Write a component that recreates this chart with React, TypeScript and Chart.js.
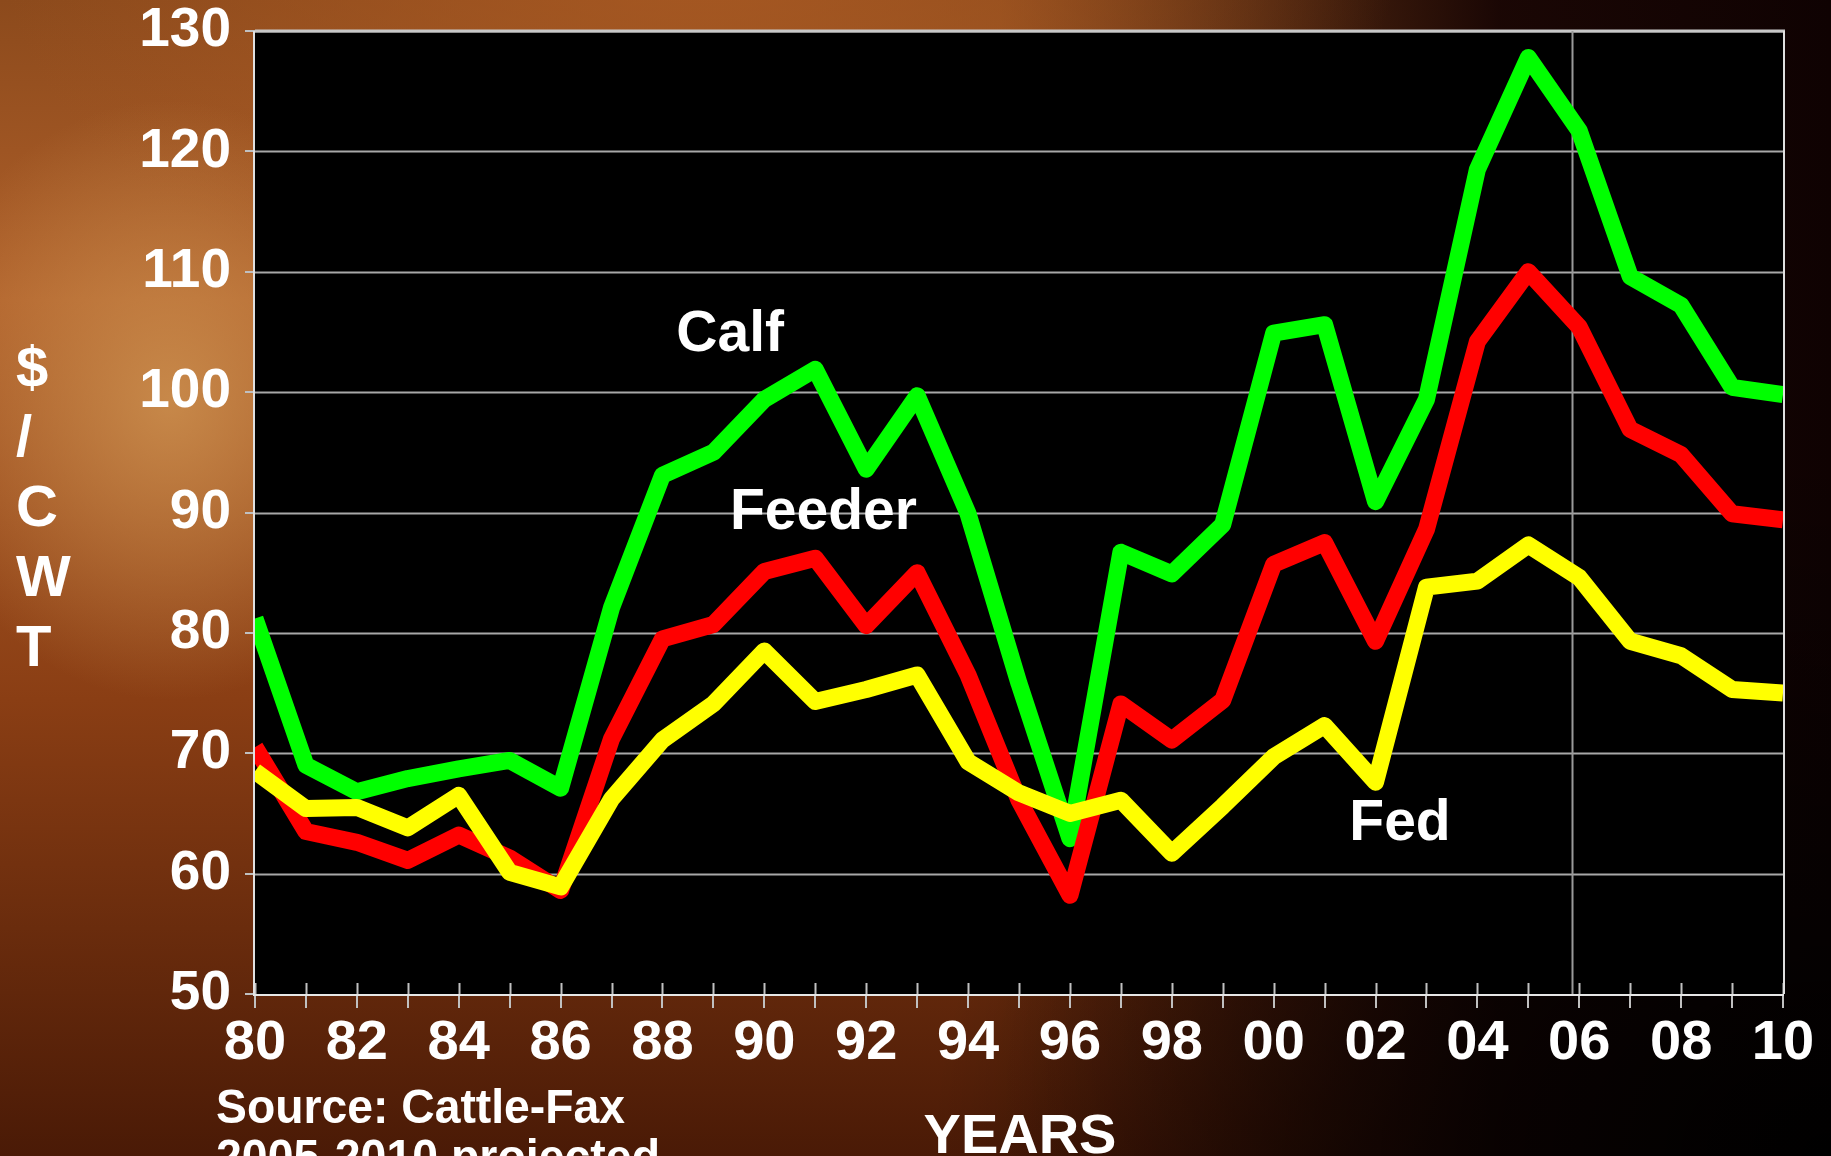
import React, { useEffect, useRef } from "react";
import { Chart, registerables } from "chart.js";

Chart.register(...registerables);

const years = [
  1980, 1981, 1982, 1983, 1984, 1985, 1986, 1987, 1988, 1989, 1990, 1991, 1992, 1993, 1994, 1995,
  1996, 1997, 1998, 1999, 2000, 2001, 2002, 2003, 2004, 2005, 2006, 2007, 2008, 2009, 2010,
];
const calf = [
  81.2, 69.0, 66.8, 67.9, 68.7, 69.4, 67.1, 82.1, 93.1, 95.0, 99.4, 101.9, 93.6, 99.7, 89.9, 75.8,
  62.9, 86.7, 84.9, 89.0, 104.9, 105.6, 90.9, 99.4, 118.5, 127.8, 121.7, 109.6, 107.2, 100.4, 99.8,
];
const feeder = [
  70.5, 63.5, 62.6, 61.1, 63.2, 61.3, 58.6, 71.2, 79.5, 80.7, 85.1, 86.2, 80.6, 85.0, 76.5, 66.1,
  58.2, 74.1, 71.1, 74.4, 85.7, 87.5, 79.3, 88.6, 104.2, 110.0, 105.4, 96.9, 94.8, 89.9, 89.4,
];
const fed = [
  68.5, 65.4, 65.5, 63.8, 66.5, 60.1, 58.9, 66.2, 71.1, 74.1, 78.5, 74.3, 75.3, 76.5, 69.3, 66.7,
  65.0, 66.1, 61.7, 65.6, 69.7, 72.3, 67.6, 83.8, 84.3, 87.3, 84.6, 79.3, 78.1, 75.3, 75.0,
];
const seriesNames = ["Fed", "Feeder", "Calf"];
const seriesColors = ["#ffff00", "#ff0000", "#00ff00"];
// label anchor positions in data units [year, value]
const labelPos: [string, number, number][] = [
  ["Calf", 1989.33, 104.7],
  ["Feeder", 1991.16, 89.9],
  ["Fed", 2002.48, 64.1],
];
const yAxisLetters = ["$", "/", "C", "W", "T"];
const sourceLines = ["Source: Cattle-Fax", "2005-2010 projected"];
const xTitle = "YEARS";
const dividerYear = 2005.85;

const FONT = "'Liberation Sans', Arial, sans-serif";

export default function App() {
  const ref = useRef<HTMLCanvasElement | null>(null);
  useEffect(() => {
    document.body.style.margin = "0";
    const canvas = ref.current!;
    const toPts = (vals: number[]) => years.map((y, i) => ({ x: y, y: vals[i] }));
    const allSeries = [fed, feeder, calf];

    const decor = {
      id: "decor",
      beforeDatasetsDraw(chart: any) {
        const { ctx, chartArea: a } = chart;
        ctx.save();
        ctx.fillStyle = "#000";
        ctx.fillRect(a.left, a.top, a.right - a.left, a.bottom - a.top);
        const ys = chart.scales.y;
        ctx.strokeStyle = "#a8a8a8";
        ctx.lineWidth = 2;
        for (let v = 60; v <= 130; v += 10) {
          const py = Math.round(ys.getPixelForValue(v)) + 0.5;
          ctx.beginPath();
          ctx.moveTo(a.left, py);
          ctx.lineTo(a.right, py);
          ctx.stroke();
        }
        ctx.strokeStyle = "#c8c8c8";
        ctx.lineWidth = 3;
        ctx.beginPath();
        ctx.moveTo(a.left, a.top);
        ctx.lineTo(a.right + 2, a.top);
        ctx.stroke();
        const dx = Math.round(chart.scales.x.getPixelForValue(dividerYear)) + 0.5;
        ctx.strokeStyle = "#9a9a9a";
        ctx.lineWidth = 2;
        ctx.beginPath();
        ctx.moveTo(dx, a.top);
        ctx.lineTo(dx, a.bottom);
        ctx.stroke();
        ctx.strokeStyle = "#c0c0c0";
        for (const yr of years) {
          const px = Math.round(chart.scales.x.getPixelForValue(yr)) + 0.5;
          ctx.beginPath();
          ctx.moveTo(px, a.bottom - 11);
          ctx.lineTo(px, a.bottom);
          ctx.stroke();
        }
        ctx.restore();
      },
      afterDatasetsDraw(chart: any) {
        const { ctx, chartArea: a } = chart;
        ctx.save();
        ctx.strokeStyle = "#e0e0e0";
        ctx.lineWidth = 2;
        ctx.beginPath();
        ctx.moveTo(a.right + 1, a.top);
        ctx.lineTo(a.right + 1, a.bottom);
        ctx.stroke();
        ctx.beginPath();
        ctx.moveTo(a.left - 1, a.top);
        ctx.lineTo(a.left - 1, a.bottom);
        ctx.stroke();

        ctx.fillStyle = "#fff";
        ctx.textAlign = "center";
        ctx.textBaseline = "middle";
        ctx.font = `bold 57px ${FONT}`;
        for (const [t, xv, yv] of labelPos) {
          ctx.fillText(t, chart.scales.x.getPixelForValue(xv), chart.scales.y.getPixelForValue(yv));
        }
        ctx.textAlign = "left";
        ctx.font = `bold 58px ${FONT}`;
        const letterY = [371, 440, 510, 580, 650];
        yAxisLetters.forEach((l, i) => ctx.fillText(l, 16, letterY[i]));
        ctx.textAlign = "center";
        ctx.textBaseline = "alphabetic";
        ctx.font = `bold 56px ${FONT}`;
        ctx.fillText(xTitle, 1020, 1153);
        ctx.textAlign = "left";
        ctx.font = `bold 49px ${FONT}`;
        const targets = [409, 444];
        const bases = [1123, 1173];
        sourceLines.forEach((s, i) => {
          const w = ctx.measureText(s).width;
          ctx.save();
          ctx.translate(216, bases[i]);
          ctx.scale(targets[i] / w, 1);
          ctx.fillText(s, 0, 0);
          ctx.restore();
        });
        ctx.restore();
      },
    };

    const chart = new Chart(canvas, {
      type: "line",
      data: {
        datasets: allSeries.map((vals, i) => ({
          label: seriesNames[i],
          data: toPts(vals),
          borderColor: seriesColors[i],
          backgroundColor: seriesColors[i],
          borderWidth: 17,
          pointRadius: 0,
          borderJoinStyle: "round" as const,
          borderCapStyle: "butt" as const,
          tension: 0,
          clip: 0,
        })),
      },
      options: {
        animation: false,
        responsive: false,
        maintainAspectRatio: false,
        layout: { padding: { top: 31, right: 48, left: 0, bottom: 0 } },
        plugins: { legend: { display: false }, tooltip: { enabled: false } },
        scales: {
          x: {
            type: "linear",
            min: 1980,
            max: 2010,
            afterFit: (s: any) => {
              s.height = 162;
              s.paddingLeft = 0;
              s.paddingRight = 0;
            },
            ticks: {
              stepSize: 1,
              autoSkip: false,
              maxRotation: 0,
              color: "#fff",
              padding: 2,
              font: { family: FONT, size: 56, weight: "bold" },
              callback: (v: any) => (Number(v) % 2 === 0 ? String(Number(v) % 100).padStart(2, "0") : ""),
            },
            grid: { drawOnChartArea: false, drawTicks: true, tickLength: 14, color: "#c0c0c0", lineWidth: 2 },
            border: { display: true, color: "#e6e6e6", width: 4 },
          },
          y: {
            min: 50,
            max: 130,
            afterFit: (s: any) => {
              s.width = 255;
              s.paddingTop = 0;
              s.paddingBottom = 0;
            },
            ticks: {
              stepSize: 10,
              color: "#fff",
              padding: 14,
              font: { family: FONT, size: 55, weight: "bold" },
            },
            grid: { drawOnChartArea: false, tickLength: 10, color: "#c0c0c0", lineWidth: 2 },
            border: { display: false },
          },
        },
      },
      plugins: [decor],
    });
    return () => chart.destroy();
  }, []);

  const bg = [
    "radial-gradient(ellipse 260px 300px at 170px 400px, rgba(205,145,80,0.85), rgba(205,145,80,0) 100%)",
    "radial-gradient(ellipse 700px 420px at 700px -60px, rgba(170,90,35,0.9), rgba(170,90,35,0) 100%)",
    "radial-gradient(ellipse 900px 700px at 1831px 1156px, rgba(0,0,0,1), rgba(0,0,0,0) 100%)",
    "linear-gradient(90deg, rgba(0,0,0,0) 0px, rgba(0,0,0,0) 1000px, rgba(20,3,3,0.95) 1500px, rgba(15,2,2,1) 1831px)",
    "linear-gradient(180deg, #8c4a1c 0px, #b0602a 300px, #8a3e14 700px, #4a1a06 1156px)",
  ].join(", ");

  return (
    <div style={{ position: "fixed", left: 0, top: 0, width: 1831, height: 1156, background: bg, overflow: "hidden" }}>
      <canvas ref={ref} width={1831} height={1156} style={{ display: "block", width: 1831, height: 1156 }} />
    </div>
  );
}
